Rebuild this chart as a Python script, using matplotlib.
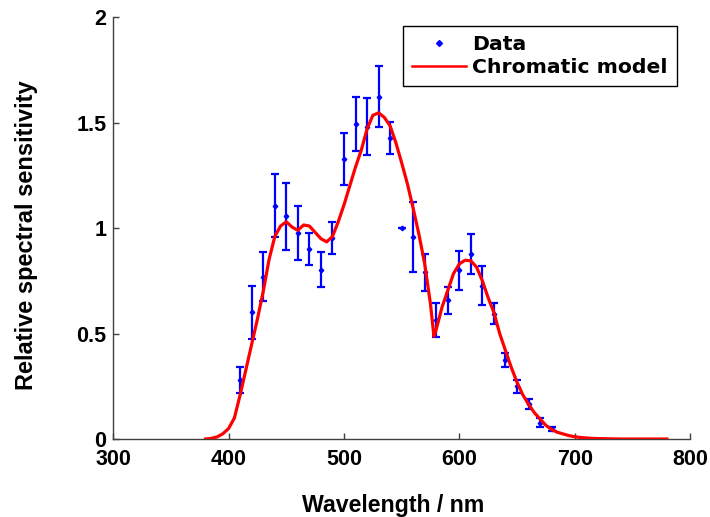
import matplotlib
matplotlib.use("Agg")
import matplotlib.pyplot as plt
from matplotlib.lines import Line2D

# Measured data (wavelength nm, relative sensitivity, error)
data_wl = [410, 420, 430, 440, 450, 460, 470, 480, 490, 500, 510, 520, 530, 540,
           550, 560, 570, 580, 590, 600, 610, 620, 630, 640, 650, 660, 670, 680]
data_val = [0.28, 0.60, 0.77, 1.107, 1.056, 0.977, 0.901, 0.803, 0.953, 1.328, 1.494, 1.48,
            1.624, 1.427, 1.0, 0.958, 0.79, 0.565, 0.657, 0.80, 0.879, 0.727, 0.594,
            0.375, 0.249, 0.166, 0.078, 0.046]
data_err = [0.06, 0.125, 0.115, 0.15, 0.16, 0.127, 0.076, 0.084, 0.076, 0.125, 0.13, 0.135,
            0.145, 0.077, 0.0, 0.167, 0.086, 0.081, 0.066, 0.094, 0.095, 0.092, 0.05,
            0.032, 0.03, 0.024, 0.02, 0.01]

# Chromatic model curve
model_wl = [380, 385, 390, 395, 400, 405, 410, 415, 420, 425, 430, 435, 440, 445, 450,
            455, 460, 465, 470, 475, 480, 485, 490, 495, 500, 505, 510, 515, 520, 525,
            530, 535, 540, 545, 550, 555, 560, 565, 570, 575, 578, 580, 585, 590, 595,
            600, 605, 610, 615, 620, 625, 630, 635, 640, 645, 650, 655, 660, 665, 670,
            675, 680, 685, 690, 695, 700, 705, 710, 715, 720, 740, 760, 780]
model_val = [0.0, 0.003, 0.01, 0.025, 0.05, 0.10, 0.21, 0.33, 0.45, 0.57, 0.70, 0.85,
             0.96, 1.01, 1.03, 1.005, 0.99, 1.015, 1.01, 0.98, 0.95, 0.935, 0.96, 1.03,
             1.11, 1.20, 1.29, 1.37, 1.47, 1.535, 1.547, 1.525, 1.485, 1.405, 1.31, 1.21,
             1.094, 0.97, 0.83, 0.64, 0.487, 0.52, 0.625, 0.705, 0.785, 0.83, 0.848,
             0.845, 0.815, 0.75, 0.67, 0.60, 0.50, 0.42, 0.34, 0.27, 0.21, 0.165, 0.125,
             0.095, 0.065, 0.045, 0.032, 0.024, 0.016, 0.011, 0.007, 0.005, 0.003, 0.002,
             0.0, 0.0, 0.0]

xticks = [300, 400, 500, 600, 700, 800]
yticks = [0, 0.5, 1, 1.5, 2]
ytick_labels = ["0", "0.5", "1", "1.5", "2"]

plt.rcParams['font.family'] = ['Liberation Sans', 'DejaVu Sans']
plt.rcParams['font.weight'] = 'bold'

fig = plt.figure(figsize=(7.10, 5.17), dpi=100)
ax = fig.add_axes([113.3 / 710, 1 - 439 / 517, (690 - 113.3) / 710, (439 - 17.3) / 517])

ax.errorbar(data_wl, data_val, yerr=data_err, fmt='D', color='#0000ff', ms=2.3,
            elinewidth=1.6, capsize=3, capthick=1.6, zorder=2)
ax.plot(model_wl, model_val, color='#ff0000', lw=2.3, zorder=3)

ax.set_xlim(300, 800)
ax.set_ylim(0, 2)
ax.set_xticks(xticks)
ax.set_yticks(yticks)
ax.set_yticklabels(ytick_labels)
for s in ['top', 'right']:
    ax.spines[s].set_visible(False)
for s in ['left', 'bottom']:
    ax.spines[s].set_color('#404040')
    ax.spines[s].set_linewidth(1.0)
ax.tick_params(direction='in', length=4, width=1, color='#404040',
               labelsize=15.5, pad=5)
ax.tick_params(axis='x', pad=7)
for lbl in ax.get_xticklabels() + ax.get_yticklabels():
    lbl.set_fontweight('bold')

fig.text(392.8 / 710, 1 - 511.7 / 517, 'Wavelength / nm', ha='center', va='baseline',
         fontsize=16.7, fontweight='bold')
fig.text(26.5 / 710, 1 - 235 / 517, 'Relative spectral sensitivity', ha='center',
         va='center', rotation=90, fontsize=17, fontweight='bold')

handles = [Line2D([], [], color='#0000ff', marker='D', ms=3, ls='none'),
           Line2D([], [], color='#ff0000', lw=1.8)]
leg = fig.legend(handles, ['Data', 'Chromatic model'], loc='upper right',
                 bbox_to_anchor=(677 / 710, 1 - 26 / 517), borderaxespad=0,
                 prop={'family': 'DejaVu Sans', 'weight': 'bold', 'size': 14.7},
                 fancybox=False, framealpha=1, edgecolor='black',
                 handlelength=2.64, handletextpad=0.3, borderpad=0.45,
                 labelspacing=0.2)
leg.get_frame().set_linewidth(1.0)

fig.savefig('out.png', dpi=100)
